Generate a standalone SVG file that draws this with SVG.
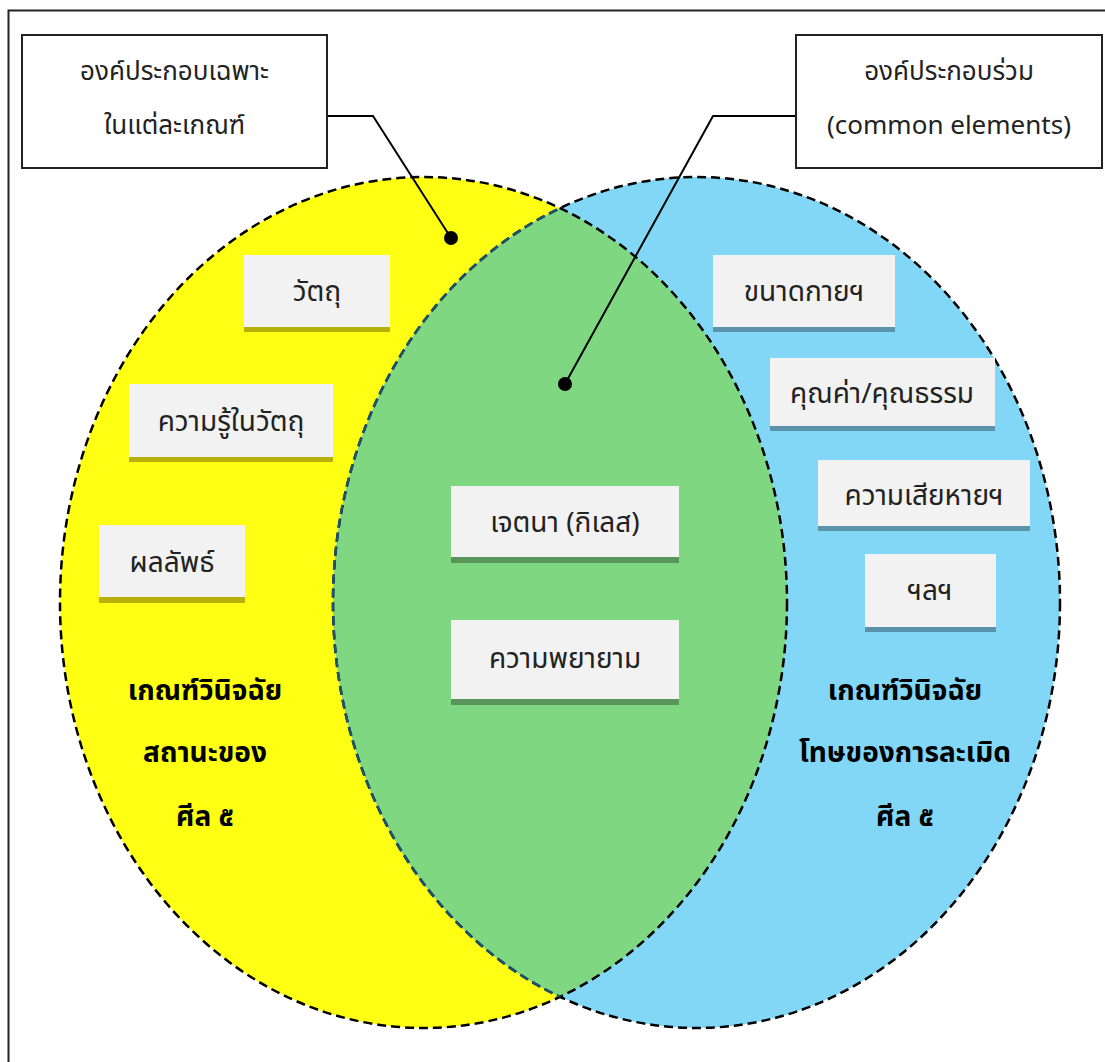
<svg xmlns="http://www.w3.org/2000/svg" width="1105" height="1062" viewBox="0 0 1105 1062">
<style>
text{font-family:"Noto Sans Thai","Noto Sans","DejaVu Sans",sans-serif;fill:#222;text-anchor:middle}
.lbl{font-size:28px}
.call{font-size:26px}
.big{font-size:28px;font-weight:bold;fill:#000}
.box{fill:#f2f2f2}
.by{fill:#b8b00a}
.bg{fill:#5a965c}
.bb{fill:#5b94aa}
.dash{fill:none;stroke:#000;stroke-width:2.5;stroke-dasharray:9 5}
</style>
<defs>
<clipPath id="clipY"><ellipse cx="423.5" cy="602.5" rx="363.5" ry="425.5"/></clipPath>
</defs>
<rect x="8.5" y="10.5" width="1200" height="1200" fill="#fff" stroke="#222" stroke-width="2"/>
<g id="venn">
<ellipse id="left-set" cx="423.5" cy="602.5" rx="363.5" ry="425.5" fill="#ffff14"/>
<ellipse id="right-set" cx="696.5" cy="602.5" rx="363.5" ry="425.5" fill="#82d7f7"/>
<ellipse cx="696.5" cy="602.5" rx="363.5" ry="425.5" fill="#80d782" clip-path="url(#clipY)"/>
<ellipse class="dash" cx="423.5" cy="602.5" rx="363.5" ry="425.5"/>
<ellipse class="dash" cx="696.5" cy="602.5" rx="363.5" ry="425.5"/>
<ellipse class="dash" cx="696.5" cy="602.5" rx="363.5" ry="425.5" style="stroke:#1d5272" clip-path="url(#clipY)"/>
</g>
<g id="connectors" fill="none" stroke="#000" stroke-width="2">
<polyline points="327,116 373,116 451,238"/>
<polyline points="796,116 713,116 565,384"/>
<circle cx="451" cy="238" r="7" fill="#000" stroke="none"/>
<circle cx="565" cy="384" r="7" fill="#000" stroke="none"/>
</g>
<g id="callout-left">
<rect x="22" y="35" width="305" height="133" fill="#fff" stroke="#222" stroke-width="2"/>
<text class="call" x="174.5" y="80">องค์ประกอบเฉพาะ</text>
<text class="call" x="174.5" y="134">ในแต่ละเกณฑ์</text>
</g>
<g id="callout-right">
<rect x="796" y="35" width="306" height="133" fill="#fff" stroke="#222" stroke-width="2"/>
<text class="call" x="949" y="80">องค์ประกอบร่วม</text>
<text class="call" x="949" y="134">(common elements)</text>
</g>
<g id="n-watthu"><rect class="box" x="244" y="255" width="146" height="77"/><rect class="by" x="244" y="327" width="146" height="5"/><text class="lbl" x="317" y="301">วัตถุ</text></g>
<g id="n-khwamru"><rect class="box" x="129" y="384" width="204" height="78"/><rect class="by" x="129" y="457" width="204" height="5"/><text class="lbl" x="231" y="431">ความรู้ในวัตถุ</text></g>
<g id="n-phonlap"><rect class="box" x="99" y="525" width="146" height="78"/><rect class="by" x="99" y="597" width="146" height="6"/><text class="lbl" x="172" y="572">ผลลัพธ์</text></g>
<g id="n-chetana"><rect class="box" x="451" y="486" width="228" height="77"/><rect class="bg" x="451" y="557" width="228" height="6"/><text class="lbl" x="565" y="532">เจตนา (กิเลส)</text></g>
<g id="n-phayayam"><rect class="box" x="451" y="620" width="228" height="85"/><rect class="bg" x="451" y="699" width="228" height="6"/><text class="lbl" x="565" y="668">ความพยายาม</text></g>
<g id="n-khanat"><rect class="box" x="713" y="255" width="182" height="77"/><rect class="bb" x="713" y="327" width="182" height="5"/><text class="lbl" x="804" y="301">ขนาดกายฯ</text></g>
<g id="n-khunkha"><rect class="box" x="770" y="358" width="225" height="73"/><rect class="bb" x="770" y="426" width="225" height="5"/><text class="lbl" x="882" y="403">คุณค่า/คุณธรรม</text></g>
<g id="n-sia"><rect class="box" x="818" y="460" width="212" height="71"/><rect class="bb" x="818" y="526" width="212" height="5"/><text class="lbl" x="924" y="505">ความเสียหายฯ</text></g>
<g id="n-lae"><rect class="box" x="865" y="554" width="131" height="78"/><rect class="bb" x="865" y="627" width="131" height="5"/><text class="lbl" x="930" y="600">ฯลฯ</text></g>
<g id="title-left">
<text class="big" x="205" y="700">เกณฑ์วินิจฉัย</text>
<text class="big" x="205" y="762">สถานะของ</text>
<text class="big" x="205" y="826">ศีล ๕</text>
</g>
<g id="title-right">
<text class="big" x="905" y="700">เกณฑ์วินิจฉัย</text>
<text class="big" x="905" y="762">โทษของการละเมิด</text>
<text class="big" x="905" y="826">ศีล ๕</text>
</g>
</svg>
